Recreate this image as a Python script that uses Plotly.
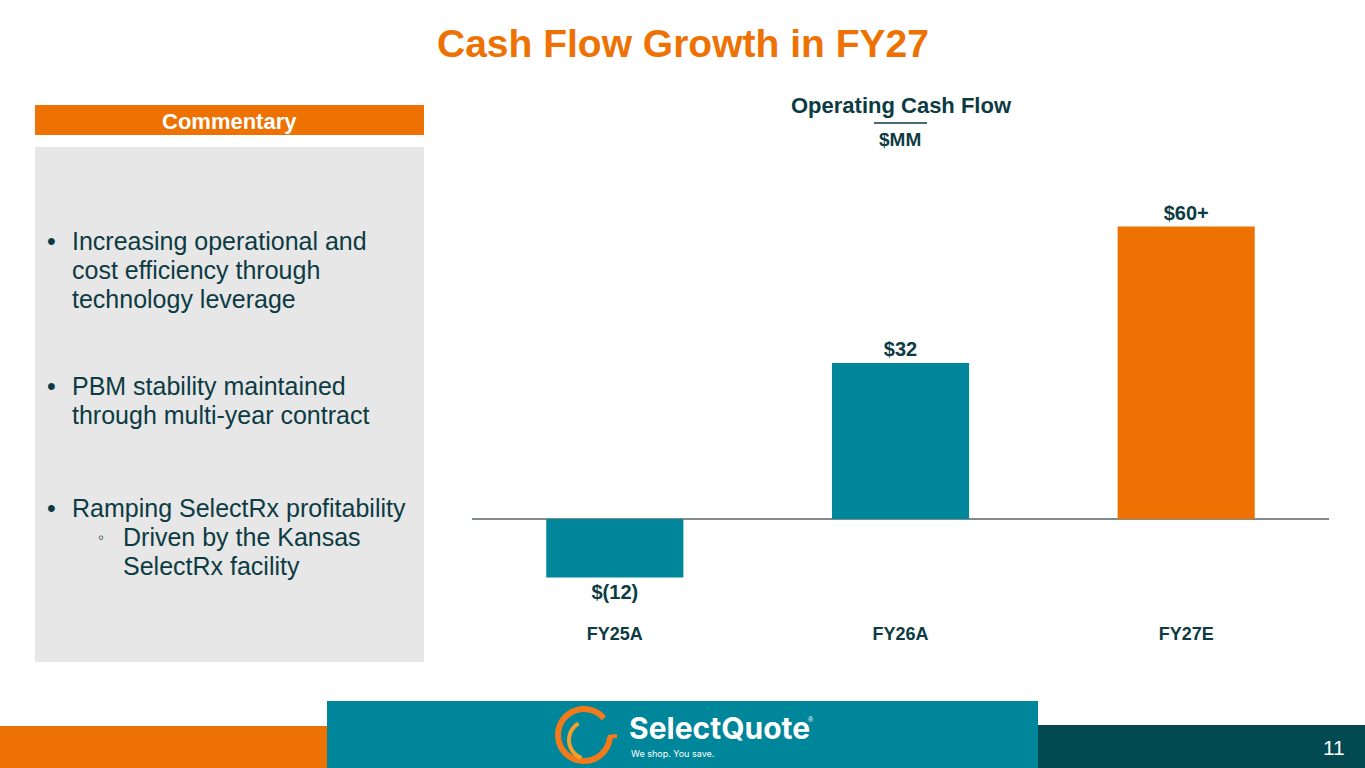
import math

import plotly.graph_objects as go

# chart data
periods = ["FY25A", "FY26A", "FY27E"]
cash_flow = [-12, 32, 60]
bar_labels = ["$(12)", "$32", "$60+"]
bar_colors = ["#00869A", "#00869A", "#EE7203"]

# commentary lines: (text, level, y centre in px)
bullet_lines = [
    ("Increasing operational and", 1, 241),
    ("cost efficiency through", 0, 270),
    ("technology leverage", 0, 299),
    ("PBM stability maintained", 1, 386),
    ("through multi-year contract", 0, 415),
    ("Ramping SelectRx profitability", 1, 508),
    ("Driven by the Kansas", 2, 537),
    ("SelectRx facility", 0, 566),
]

W, H = 1365, 768
ORANGE = "#EE7203"
TEAL = "#00869A"
DARK = "#0D3B43"
FONT = "Liberation Sans, Arial, sans-serif"


def px_x(v):
    return v / W


def px_y(v):
    return 1 - v / H


def arc_path(cx, cy, r, a0, a1, n=40):
    # polyline arc in pixel space, angles in degrees (screen, y down)
    pts = []
    for i in range(n + 1):
        a = math.radians(a0 + (a1 - a0) * i / n)
        pts.append((px_x(cx + r * math.cos(a)), px_y(cy + r * math.sin(a))))
    return "M " + " L ".join(f"{x:.5f} {y:.5f}" for x, y in pts)


fig = go.Figure()
fig.add_trace(go.Bar(
    x=periods, y=cash_flow,
    marker=dict(color=bar_colors, line=dict(width=0)),
    text=[f"<b>{t}</b>" for t in bar_labels], textposition="outside", cliponaxis=False,
    textfont=dict(family=FONT, size=20, color=DARK),
    width=0.48, hoverinfo="skip",
))

shapes = [
    # commentary header and grey panel
    dict(type="rect", xref="paper", yref="paper", x0=px_x(35), x1=px_x(424),
         y0=px_y(135), y1=px_y(105), fillcolor=ORANGE, line=dict(width=0), layer="below"),
    dict(type="rect", xref="paper", yref="paper", x0=px_x(35), x1=px_x(424),
         y0=px_y(662), y1=px_y(147), fillcolor="#E7E7E7", line=dict(width=0), layer="below"),
    # underline between subtitle rows
    dict(type="line", xref="paper", yref="paper", x0=px_x(874), x1=px_x(927),
         y0=px_y(123), y1=px_y(123), line=dict(color=DARK, width=1.5)),
    # footer bands
    dict(type="rect", xref="paper", yref="paper", x0=0, x1=px_x(328),
         y0=0, y1=px_y(726), fillcolor=ORANGE, line=dict(width=0)),
    dict(type="rect", xref="paper", yref="paper", x0=px_x(1037), x1=1,
         y0=0, y1=px_y(725), fillcolor="#024951", line=dict(width=0)),
    dict(type="rect", xref="paper", yref="paper", x0=px_x(327), x1=px_x(1038),
         y0=0, y1=px_y(701), fillcolor=TEAL, line=dict(width=0)),
    # logo swirl
    dict(type="path", xref="paper", yref="paper",
         path=arc_path(584, 735, 26, 5, 320), line=dict(color="#F27A1A", width=6)),
    dict(type="path", xref="paper", yref="paper",
         path=f"M {px_x(608)} {px_y(737)} L {px_x(617)} {px_y(736)}",
         line=dict(color="#F27A1A", width=4)),
    dict(type="path", xref="paper", yref="paper",
         path=arc_path(588, 740, 19, 240, 110), line=dict(color="#F6A02A", width=4)),
]

annotations = [
    dict(text="<b>Cash Flow Growth in FY27</b>", x=px_x(683), y=px_y(44),
         font=dict(size=39, color=ORANGE)),
    dict(text="<b>Commentary</b>", x=px_x(229.5), y=px_y(121),
         font=dict(size=22, color="white")),
    dict(text="<b>Operating Cash Flow</b>", x=px_x(901), y=px_y(105),
         font=dict(size=22, color=DARK)),
    dict(text="<b>$MM</b>", x=px_x(900), y=px_y(139),
         font=dict(size=19, color=DARK)),
    dict(text="11", x=px_x(1334), y=px_y(747), font=dict(size=21, color="white")),
    dict(text="<b>SelectQuote</b>", x=px_x(627), y=px_y(728), xanchor="left",
         font=dict(size=30, color="white", family="Inter, Noto Sans, sans-serif")),
    dict(text="®", x=px_x(806), y=px_y(719), xanchor="left",
         font=dict(size=7, color="white")),
    dict(text="We shop. You save.", x=px_x(629), y=px_y(753), xanchor="left",
         font=dict(size=9, color="white", family="Inter, Noto Sans, sans-serif")),
]

# bullet list
for text, level, yc in bullet_lines:
    x_text = 121 if level == 2 or (level == 0 and yc > 540) else 70
    if level == 1:
        annotations.append(dict(text="•", x=px_x(45), y=px_y(yc), xanchor="left",
                                font=dict(size=25, color=DARK)))
    if level == 2:
        annotations.append(dict(text="◦", x=px_x(96), y=px_y(yc), xanchor="left",
                                font=dict(size=17, color=DARK)))
    annotations.append(dict(text=text, x=px_x(x_text), y=px_y(yc), xanchor="left",
                            align="left", font=dict(size=25, color=DARK)))

for a in annotations:
    a.setdefault("xref", "paper")
    a.setdefault("yref", "paper")
    a.setdefault("xanchor", "center")
    a.setdefault("yanchor", "middle")
    a.setdefault("showarrow", False)

# zero at y=519px, 4.875 px per $MM
y_lo, y_hi = -20, 70
scale = 4.875
fig.update_layout(
    width=W, height=H,
    margin=dict(l=0, r=0, t=0, b=0),
    paper_bgcolor="white", plot_bgcolor="white",
    font=dict(family=FONT, color=DARK),
    showlegend=False,
    shapes=shapes,
    annotations=annotations,
    xaxis=dict(domain=[px_x(472), px_x(1329)], showgrid=False, showline=False,
               ticks="", tickfont=dict(size=18, color=DARK, family=FONT),
               tickprefix="<b>", ticksuffix="</b>",
               ticklabelstandoff=4, fixedrange=True),
    yaxis=dict(range=[y_lo, y_hi],
               domain=[px_y(519 - y_lo * scale), px_y(519 - y_hi * scale)],
               showgrid=False, showticklabels=False, zeroline=True,
               zerolinecolor="#7F8B8D", zerolinewidth=2, fixedrange=True),
)

fig.write_html("out.html", config={"displayModeBar": False},
               post_script="document.body.style.margin='0';")
